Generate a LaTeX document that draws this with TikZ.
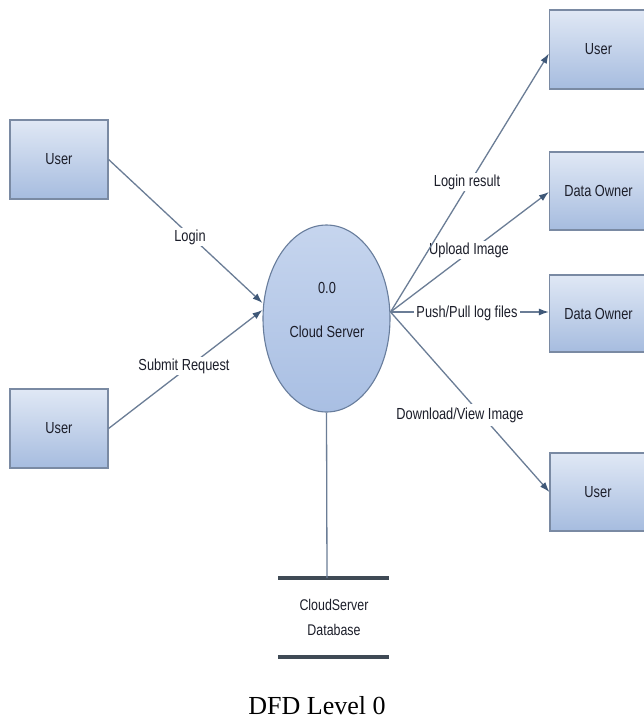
\documentclass[tikz,border=0pt]{standalone}
\usepackage{fontspec}
\setmainfont{Liberation Serif}
\newfontfamily\narrowfont[FakeStretch=0.8]{Liberation Sans}
\usetikzlibrary{arrows.meta,shapes.geometric,calc}
\definecolor{boxtop}{HTML}{E0E8F5}
\definecolor{boxbot}{HTML}{A6BCDF}
\definecolor{boxline}{HTML}{7A8AA3}
\definecolor{elltop}{HTML}{C6D5EE}
\definecolor{ellbot}{HTML}{A9BFE3}
\definecolor{ellline}{HTML}{687D9C}
\definecolor{flowline}{HTML}{6B7D96}
\definecolor{tipcol}{HTML}{3F5878}
\definecolor{dbline}{HTML}{3F4A55}
\definecolor{txt}{HTML}{1C1E2A}
\tikzset{
  entity/.style={rectangle, draw=boxline, line width=1.2pt, top color=boxtop, bottom color=boxbot,
    minimum width=95pt, minimum height=78pt, inner sep=0pt, text=txt,
    font=\narrowfont\fontsize{16}{18}\selectfont},
  process/.style={ellipse, draw=ellline, line width=1.1pt, top color=elltop, bottom color=ellbot,
    minimum width=127pt, minimum height=187pt, inner sep=0pt},
  lbl/.style={fill=white, inner sep=2pt, text=txt, font=\narrowfont\fontsize{16}{18}\selectfont},
  ptxt/.style={inner sep=0pt, text=txt, font=\narrowfont\fontsize{16}{18}\selectfont},
  flow/.style={draw=flowline, line width=1.3pt, -{Latex[length=10pt,width=7pt,fill=tipcol,color=tipcol]}},
  plain/.style={draw=flowline, line width=1.3pt},
  dbbar/.style={draw=dbline, line width=4pt}
}
\begin{document}
\begin{tikzpicture}[x=1pt,y=-1pt]
\useasboundingbox (0,0) rectangle (644,726);
\fill[white] (0,0) rectangle (644,726);
\clip (0,0) rectangle (644,726);

% external entities
\node[entity, minimum width=98pt, minimum height=79pt] (u1) at (59,159.5) {User};
\node[entity, minimum width=98pt, minimum height=79pt] (u2) at (59,428.5) {User};
\node[entity, minimum width=98pt, minimum height=79pt] (ru1) at (598.5,49.5) {User};
\node[entity, minimum width=98pt, minimum height=78pt] (do1) at (598.5,191) {Data Owner};
\node[entity, minimum width=98pt, minimum height=77pt] (do2) at (598.5,313.5) {Data Owner};
\node[entity, minimum width=96pt, minimum height=78pt] (ru2) at (598,492) {User};

% process
\node[process] (cs) at (326.5,318.5) {};
\node[ptxt] (csnum) at (327,288) {0.0};
\node[ptxt] (csname) at (327,332) {Cloud Server};

% data store
\coordinate (dbtop) at (327,578);
\coordinate (dbtl) at (278,578);
\coordinate (dbtr) at (389,578);
\coordinate (dbbl) at (278,657);
\coordinate (dbbr) at (389,657);
\draw[dbbar] (dbtl) -- (dbtr);
\draw[dbbar] (dbbl) -- (dbbr);
\node[ptxt, align=center, font=\narrowfont\fontsize{15.5}{25}\selectfont] (db) at (334,617.5) {CloudServer\\Database};
\draw[plain] (cs.south) -- (dbtop);

% flows
\coordinate (hub) at ([yshift=6.5pt]cs.east);
\draw[flow] (u1.east) -- ([yshift=15.5pt]cs.west);
\draw[flow] (u2.east) -- ([yshift=8.5pt]cs.west);
\draw[flow] (hub) -- ([yshift=-1pt]do1.west);
\draw[flow] (hub) -- (hub -| do2.west);
\draw[flow] (hub) -- (ru2.west);

% labels
\node[lbl] (l1) at (190,237) {Login};
\node[lbl] (l2) at (184,366) {Submit Request};
\node[lbl] (l4) at (469,250) {Upload Image};
\draw[flow] (hub) -- ([yshift=-4pt]ru1.west);
\node[lbl] (l3) at (467,182) {Login result};
\node[lbl] (l5) at (467,313) {Push/Pull log files};
\node[lbl, inner sep=4pt] (l6) at (460,415) {Download/View Image};

% caption
\node[inner sep=0pt, font=\fontsize{26}{30}\selectfont] (cap) at (317,706) {DFD Level 0};
\end{tikzpicture}
\end{document}
